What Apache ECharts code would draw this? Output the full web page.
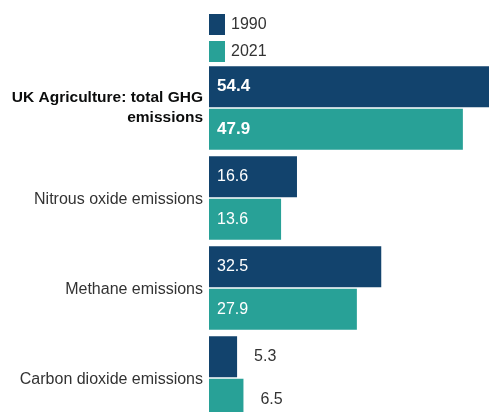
<!DOCTYPE html>
<html>
<head>
<meta charset="utf-8">
<script src="https://cdn.jsdelivr.net/npm/echarts@6/dist/echarts.min.js"></script>
<style>
  html, body { margin: 0; padding: 0; background: #fff; }
  #chart { width: 489px; height: 412px; }
</style>
</head>
<body>
<div id="chart"></div>
<script>
// emissions, MtCO2e
const categories = [
  "UK Agriculture: total GHG\nemissions",
  "Nitrous oxide emissions",
  "Methane emissions",
  "Carbon dioxide emissions"
];
const values1990 = [54.4, 16.6, 32.5, 5.3];
const values2021 = [47.9, 13.6, 27.9, 6.5];

const FONT = "Liberation Sans, Arial, sans-serif";

// small bars get their label outside, in grey
function barData(vals) {
  return vals.map(function (v, i) {
    const item = { value: v };
    if (i === 0) {
      item.label = { fontWeight: "bold", fontSize: 17 };
    }
    if (v < 10) {
      item.label = { position: "right", color: "#333", distance: 17 };
    }
    return item;
  });
}

const chart = echarts.init(document.getElementById("chart"));
chart.setOption({
  animation: false,
  legend: {
    orient: "vertical",
    left: 209,
    top: 14,
    padding: 0,
    itemWidth: 16,
    itemHeight: 21,
    itemGap: 6,
    icon: "rect",
    textStyle: { fontFamily: FONT, fontSize: 16, color: "#333", padding: [0, 0, 0, 1] },
    data: ["1990", "2021"]
  },
  grid: { left: 209, width: 280, top: 63, height: 360, outerBoundsMode: "none", containLabel: false },
  xAxis: {
    type: "value",
    min: 0,
    max: 52.83,
    show: false
  },
  yAxis: {
    type: "category",
    inverse: true,
    data: categories,
    axisLine: { show: false },
    axisTick: { show: false },
    axisLabel: {
      margin: 6,
      fontFamily: FONT,
      fontSize: 16,
      color: "#333",
      formatter: function (v, i) {
        return i === 0 ? "{b|" + v.split("\n").join("}\n{b|") + "}" : "{n|" + v + "}";
      },
      rich: {
        b: { fontWeight: "bold", fontSize: 15.5, color: "#0b0c0c", fontFamily: FONT, lineHeight: 20 },
        n: { fontSize: 16, color: "#333", fontFamily: FONT, padding: [4, 0, 0, 0] }
      }
    }
  },
  series: [
    {
      name: "1990",
      type: "bar",
      data: barData(values1990),
      barGap: "3.5%",
      barCategoryGap: "7.2%",
      itemStyle: { color: "#12436D" },
      label: {
        show: true,
        position: "insideLeft",
        distance: 8,
        color: "#fff",
        fontFamily: FONT,
        fontSize: 16
      }
    },
    {
      name: "2021",
      type: "bar",
      data: barData(values2021),
      itemStyle: { color: "#28A197" },
      label: {
        show: true,
        position: "insideLeft",
        distance: 8,
        color: "#fff",
        fontFamily: FONT,
        fontSize: 16
      }
    }
  ]
});
</script>
</body>
</html>
